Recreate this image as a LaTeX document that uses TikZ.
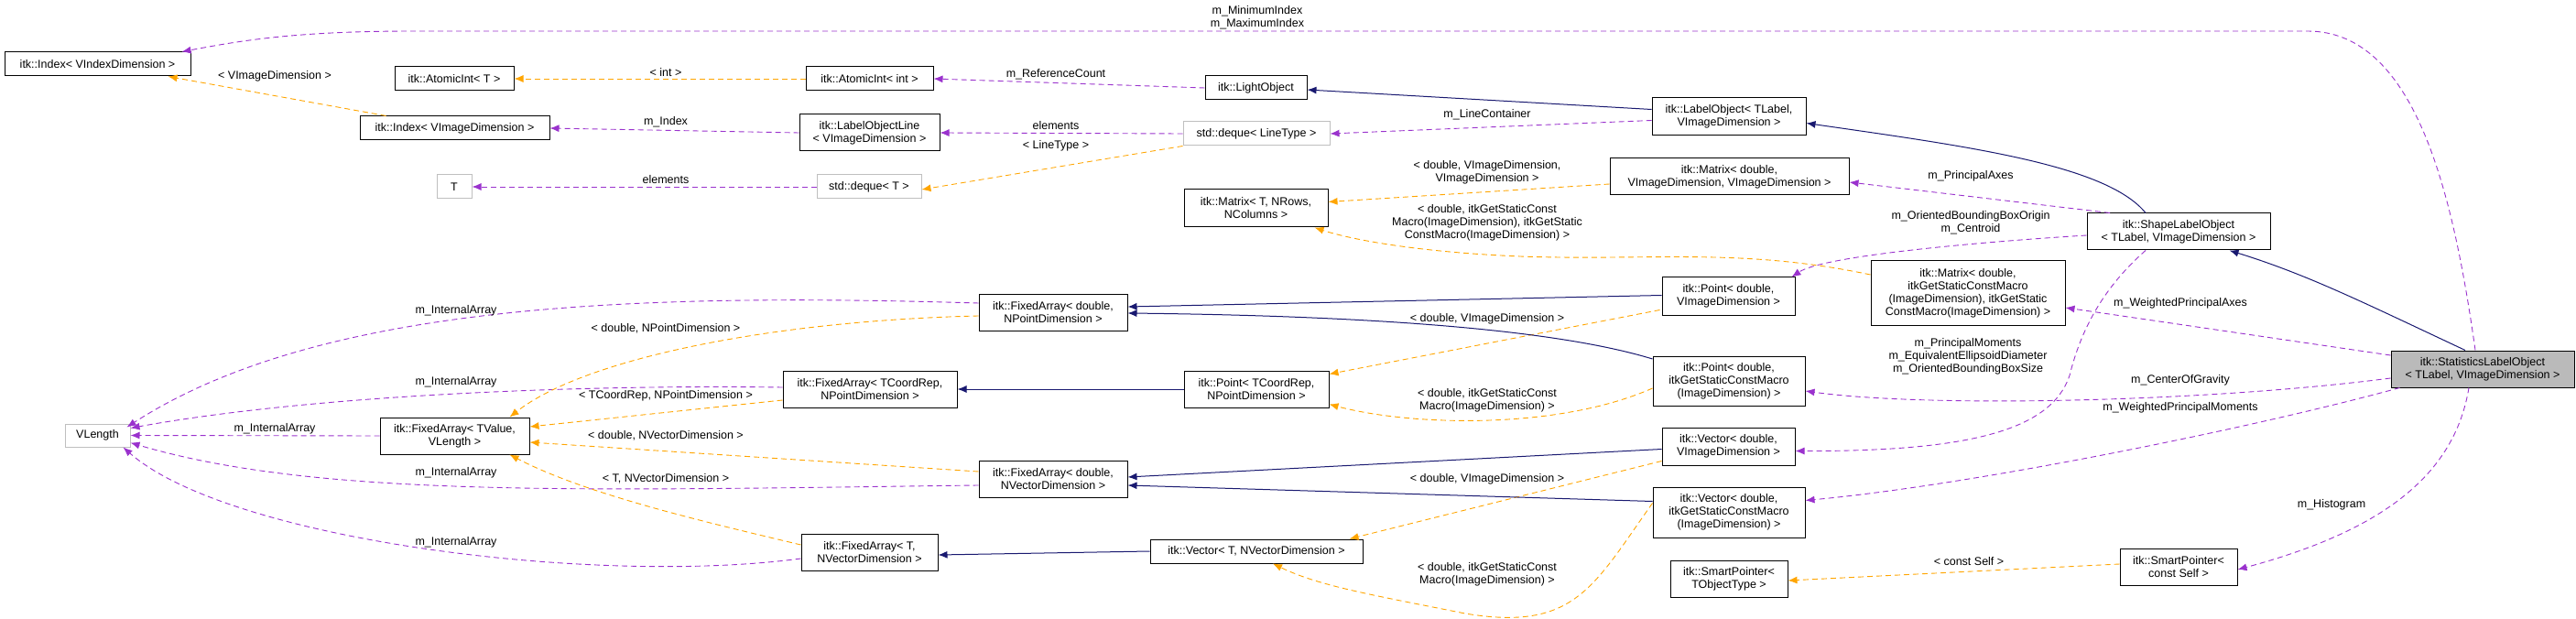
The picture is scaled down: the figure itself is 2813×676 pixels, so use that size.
\documentclass[tikz,border=0pt]{standalone}
\usepackage{fontspec}
\setmainfont{Liberation Sans}
\usetikzlibrary{arrows.meta}
\definecolor{pur}{HTML}{9A32CD}
\definecolor{org}{HTML}{FFA500}
\definecolor{nav}{HTML}{191970}
\begin{document}
\begin{tikzpicture}[x=1pt,y=-1pt,
 font=\fontsize{12.5}{14}\selectfont,
 box/.style={draw=black,line width=1pt,fill=white,align=center,inner sep=2pt},
 gbox/.style={draw=black!25,line width=1pt,fill=white,align=center,inner sep=2pt},
 lab/.style={align=center,inner sep=0pt},
 tip/.style={-{Latex[length=10pt,width=8pt]}},
 mm/.style={draw=pur,dash pattern=on 6pt off 4pt,line width=0.9pt,tip},
 tt/.style={draw=org,dash pattern=on 6pt off 4pt,line width=0.9pt,tip},
 ii/.style={draw=nav,line width=1pt,tip}]
\useasboundingbox (0,0) rectangle (2813,676);
% nodes
\node[box,minimum width=203,minimum height=26] (idxV) at (106.5,70) {itk::Index< VIndexDimension >};
\node[box,minimum width=130,minimum height=26] (aiT) at (496,86) {itk::AtomicInt< T >};
\node[box,minimum width=207,minimum height=26] (idxI) at (496.5,140) {itk::Index< VImageDimension >};
\node[gbox,minimum width=38,minimum height=26] (T) at (496,204) {T};
\node[box,minimum width=139,minimum height=26] (aiI) at (949.5,86) {itk::AtomicInt< int >};
\node[box,minimum width=153,minimum height=40] (lol) at (949.5,145) {itk::LabelObjectLine\\< VImageDimension >};
\node[gbox,minimum width=114,minimum height=26] (dqT) at (949,204) {std::deque< T >};
\node[box,minimum width=111,minimum height=26] (light) at (1371.5,96) {itk::LightObject};
\node[gbox,minimum width=160,minimum height=26] (dqL) at (1372,146) {std::deque< LineType >};
\node[box,minimum width=157,minimum height=41] (matT) at (1371.5,227.5) {itk::Matrix< T, NRows,\\NColumns >};
\node[box,minimum width=168,minimum height=41] (lo) at (1888,127.5) {itk::LabelObject< TLabel,\\VImageDimension >};
\node[box,minimum width=261,minimum height=40] (matD) at (1888.5,193) {itk::Matrix< double,\\VImageDimension, VImageDimension >};
\node[box,minimum width=200,minimum height=40] (shape) at (2379,253) {itk::ShapeLabelObject\\< TLabel, VImageDimension >};
\node[box,minimum width=212,minimum height=70] (mat4) at (2149,320) {itk::Matrix< double,\\itkGetStaticConstMacro\\(ImageDimension), itkGetStatic\\ConstMacro(ImageDimension) >};
\node[box,minimum width=145,minimum height=41] (ptD) at (1887.5,323.5) {itk::Point< double,\\VImageDimension >};
\node[box,minimum width=162,minimum height=40] (faDP) at (1150,341) {itk::FixedArray< double,\\NPointDimension >};
\node[box,fill=black!27,minimum width=200,minimum height=40] (stat) at (2711,403) {itk::StatisticsLabelObject\\< TLabel, VImageDimension >};
\node[gbox,minimum width=71,minimum height=25] (vlen) at (106.5,475.5) {VLength};
\node[box,minimum width=163,minimum height=40] (faTV) at (496.5,476) {itk::FixedArray< TValue,\\VLength >};
\node[box,minimum width=190,minimum height=40] (faTC) at (950,425) {itk::FixedArray< TCoordRep,\\NPointDimension >};
\node[box,minimum width=158,minimum height=40] (ptTC) at (1372,425) {itk::Point< TCoordRep,\\NPointDimension >};
\node[box,minimum width=166,minimum height=54] (ptI) at (1888,416) {itk::Point< double,\\itkGetStaticConstMacro\\(ImageDimension) >};
\node[box,minimum width=145,minimum height=41] (vecD) at (1887.5,487.5) {itk::Vector< double,\\VImageDimension >};
\node[box,minimum width=162,minimum height=40] (faDV) at (1150,523) {itk::FixedArray< double,\\NVectorDimension >};
\node[box,minimum width=166,minimum height=55] (vecI) at (1888,559.5) {itk::Vector< double,\\itkGetStaticConstMacro\\(ImageDimension) >};
\node[box,minimum width=149,minimum height=40] (faT) at (949.5,603) {itk::FixedArray< T,\\NVectorDimension >};
\node[box,minimum width=232,minimum height=26] (vecT) at (1372,602) {itk::Vector< T, NVectorDimension >};
\node[box,minimum width=128,minimum height=40] (spT) at (1888,632) {itk::SmartPointer<\\TObjectType >};
\node[box,minimum width=128,minimum height=40] (spS) at (2379,619) {itk::SmartPointer<\\const Self >};
% coordinates
\coordinate (c1) at (2520,34);
\coordinate (c2) at (450,34);
% purple
\draw[mm] ([xshift=-8pt]stat.north) .. controls (2680,220) and (2640,34) .. (c1) -- (c2) .. controls (320,34) and (260,45) .. ([xshift=-10pt]idxV.north east);
\draw[mm] (light.west) -- (aiI.east);
\draw[mm] (lol.west) -- (idxI.east);
\draw[mm] (dqL.west) -- (lol.east);
\draw[mm] ([yshift=-4pt]lo.west) -- (dqL.east);
\draw[mm] (dqT.west) -- (T.east);
\draw[mm] ([xshift=-75pt]shape.north) -- ([yshift=-6pt]matD.east);
\draw[mm] ([yshift=-4pt]shape.west) .. controls (2150,265) and (1990,280) .. ([xshift=-4pt]ptD.north east);
\draw[mm] ([xshift=-36pt]shape.south) .. controls (2290,320) and (2270,370) .. (2260,410) .. controls (2240,470) and (2150,493) .. ([yshift=-5pt]vecD.east);
\draw[mm] ([yshift=15pt]stat.west) -- ([yshift=-16pt]mat4.east);
\draw[mm] ([yshift=-10pt]stat.west) .. controls (2400,440) and (2100,445) .. ([yshift=-11pt]ptI.east);
\draw[mm] ([xshift=10pt]stat.south west) .. controls (2450,470) and (2150,530) .. ([yshift=13pt]vecI.east);
\draw[mm] ([xshift=-15pt]stat.south) .. controls (2680,520) and (2600,580) .. ([yshift=-3pt]spS.east);
\draw[mm] ([yshift=10pt]faDP.west) .. controls (700,320) and (350,330) .. ([xshift=-4pt,yshift=-4pt]vlen.north east);
\draw[mm] ([yshift=2pt]faTC.west) .. controls (650,420) and (350,430) .. ([yshift=8pt]vlen.east);
\draw[mm] (faTV.west) -- (vlen.east);
\draw[mm] ([yshift=-7pt]faDV.west) .. controls (650,535) and (350,545) .. ([yshift=-8pt]vlen.east);
\draw[mm] ([yshift=-7pt]faT.west) .. controls (650,640) and (250,590) .. ([xshift=-8pt]vlen.south east);
% orange
\draw[tt] ([xshift=-75pt]idxI.north) -- ([xshift=-25pt]idxV.south east);
\draw[tt] (aiI.west) -- (aiT.east);
\draw[tt] (dqL.south west) -- ([yshift=-3pt]dqT.east);
\draw[tt] ([yshift=-8pt]matD.west) -- ([yshift=7pt]matT.east);
\draw[tt] ([yshift=20pt]mat4.west) .. controls (1900,270) and (1800,285) .. (1660,280) .. controls (1540,275) and (1470,260) .. ([xshift=-15pt]matT.south east);
\draw[tt] ([yshift=-4pt]faDP.west) .. controls (850,350) and (640,390) .. ([xshift=60pt]faTV.north);
\draw[tt] ([yshift=-12pt]faTC.west) -- ([yshift=10pt]faTV.east);
\draw[tt] ([yshift=8pt]faDV.west) -- ([yshift=-7pt]faTV.east);
\draw[tt] ([yshift=8pt]faT.west) .. controls (770,570) and (640,540) .. ([xshift=60pt]faTV.south);
\draw[tt] ([xshift=-2pt,yshift=6pt]ptD.south west) -- ([yshift=-4pt]ptTC.north east);
\draw[tt] ([yshift=-8pt]ptI.west) .. controls (1700,470) and (1540,465) .. ([yshift=4pt]ptTC.south east);
\draw[tt] ([yshift=5pt]vecD.south west) -- ([xshift=-15pt]vecT.north east);
\draw[tt] ([yshift=10pt]vecI.west) .. controls (1740,640) and (1720,690) .. (1600,670) .. controls (1500,650) and (1440,640) .. ([xshift=18pt]vecT.south);
\draw[tt] ([yshift=3pt]spS.west) -- ([yshift=-2pt]spT.east);
% navy
\draw[ii] ([yshift=8pt]lo.west) -- ([yshift=-2pt]light.east);
\draw[ii] ([xshift=-36pt]shape.north) .. controls (2300,180) and (2150,160) .. ([yshift=-7pt]lo.east);
\draw[ii] ([xshift=-19pt]stat.north) .. controls (2580,330) and (2520,300) .. ([xshift=-45pt]shape.south east);
\draw[ii] ([yshift=1pt]ptD.west) -- ([yshift=6pt]faDP.east);
\draw[ii] ([yshift=24pt]ptI.west) .. controls (1700,360) and (1500,345) .. ([yshift=-1pt]faDP.east);
\draw[ii] (ptTC.west) -- (faTC.east);
\draw[ii] ([yshift=-3pt]vecD.west) -- ([yshift=2pt]faDV.east);
\draw[ii] ([yshift=12pt]vecI.west) -- ([yshift=-7pt]faDV.east);
\draw[ii] (vecT.west) -- ([yshift=-3pt]faT.east);
% labels
\node[lab] (l1) at (1373,19) {m\_MinimumIndex\\m\_MaximumIndex};
\node[lab] (l2) at (1153,81) {m\_ReferenceCount};
\node[lab] (l3) at (727,133) {m\_Index};
\node[lab] (l4) at (1153,137) {elements};
\node[lab] (l5) at (1624,125) {m\_LineContainer};
\node[lab] (l6) at (727,196) {elements};
\node[lab] (l7) at (2152,192) {m\_PrincipalAxes};
\node[lab] (l8) at (2152,243) {m\_OrientedBoundingBoxOrigin\\m\_Centroid};
\node[lab] (l9) at (2149,389) {m\_PrincipalMoments\\m\_EquivalentEllipsoidDiameter\\m\_OrientedBoundingBoxSize};
\node[lab] (l10) at (2381,331) {m\_WeightedPrincipalAxes};
\node[lab] (l11) at (2381,415) {m\_CenterOfGravity};
\node[lab] (l12) at (2381,445) {m\_WeightedPrincipalMoments};
\node[lab] (l13) at (2546,551) {m\_Histogram};
\node[lab] (l14) at (498,339) {m\_InternalArray};
\node[lab] (l15) at (498,417) {m\_InternalArray};
\node[lab] (l16) at (300,468) {m\_InternalArray};
\node[lab] (l17) at (498,516) {m\_InternalArray};
\node[lab] (l18) at (498,592) {m\_InternalArray};
\node[lab] (o1) at (300,83) {< VImageDimension >};
\node[lab] (o2) at (727,79) {< int >};
\node[lab] (o3) at (1153,159) {< LineType >};
\node[lab] (o4) at (1624,188) {< double, VImageDimension,\\VImageDimension >};
\node[lab] (o5) at (1624,243) {< double, itkGetStaticConst\\Macro(ImageDimension), itkGetStatic\\ConstMacro(ImageDimension) >};
\node[lab] (o6) at (727,359) {< double, NPointDimension >};
\node[lab] (o7) at (727,432) {< TCoordRep, NPointDimension >};
\node[lab] (o8) at (727,476) {< double, NVectorDimension >};
\node[lab] (o9) at (727,523) {< T, NVectorDimension >};
\node[lab] (o10) at (1624,348) {< double, VImageDimension >};
\node[lab] (o11) at (1624,437) {< double, itkGetStaticConst\\Macro(ImageDimension) >};
\node[lab] (o12) at (1624,523) {< double, VImageDimension >};
\node[lab] (o13) at (1624,627) {< double, itkGetStaticConst\\Macro(ImageDimension) >};
\node[lab] (o14) at (2150,613) {< const Self >};
\end{tikzpicture}
\end{document}
